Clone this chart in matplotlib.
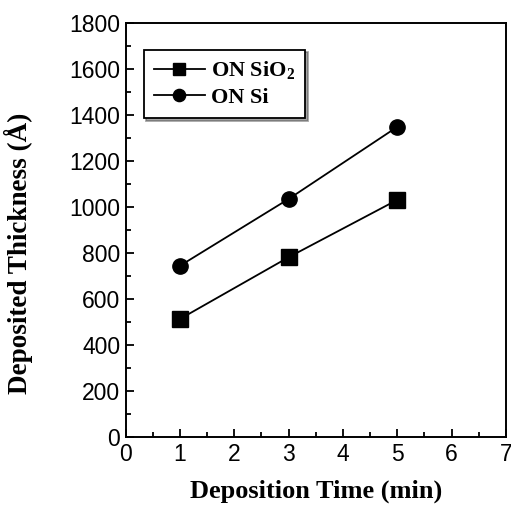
#!/usr/bin/env python3

import matplotlib
matplotlib.use('Agg')
import matplotlib.pyplot as plt
from matplotlib.ticker import MultipleLocator

# Data
time_min = [1, 3, 5]
thick_sio2 = [513, 781, 1030]
thick_si = [744, 1034, 1347]

fig = plt.figure(figsize=(5.11, 5.13), dpi=100)
ax = fig.add_axes([0.246, 0.148, 0.744, 0.808])

ax.plot(time_min, thick_sio2, color='black', lw=1.3, marker='s', ms=11,
        label=r'ON SiO$_\mathregular{2}$')
ax.plot(time_min, thick_si, color='black', lw=1.3, marker='o', ms=11,
        label='ON Si')

ax.set_xlim(0, 7)
ax.set_ylim(0, 1800)
ax.xaxis.set_major_locator(MultipleLocator(1))
ax.xaxis.set_minor_locator(MultipleLocator(0.5))
ax.yaxis.set_major_locator(MultipleLocator(200))
ax.yaxis.set_minor_locator(MultipleLocator(100))
ax.tick_params(which='both', direction='in', width=1.3)
ax.tick_params(which='major', length=6, labelsize=16.5, pad=4)
ax.tick_params(which='minor', length=3.5)
for lab in ax.get_xticklabels() + ax.get_yticklabels():
    lab.set_family('Liberation Sans')
for s in ax.spines.values():
    s.set_linewidth(1.4)

ax.set_xlabel('Deposition Time (min)', family='Liberation Serif',
              fontweight='bold', fontsize=19, labelpad=10)
ax.set_ylabel('Deposited Thickness (\u00c5)', family='Liberation Serif',
              fontweight='bold', fontsize=19.5)
ax.yaxis.set_label_coords(-0.245, 0.443)

leg = ax.legend(loc='upper left', bbox_to_anchor=(0.047, 0.935),
                borderaxespad=0, frameon=True, shadow=True, fancybox=False,
                prop={'family': 'Liberation Serif', 'weight': 'bold', 'size': 16},
                handlelength=2.3, borderpad=0.45, labelspacing=0.25,
                handletextpad=0.3, markerscale=0.8)
leg.get_frame().set_edgecolor('black')
leg.get_frame().set_linewidth(1.3)

fig.savefig('out.png', dpi=100)
